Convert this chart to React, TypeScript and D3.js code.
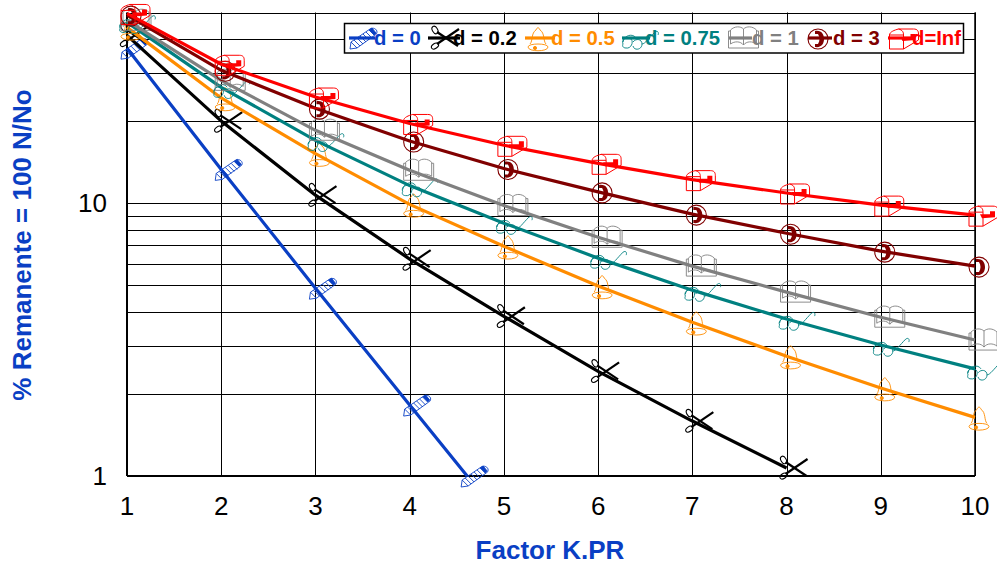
import React, { useEffect, useRef } from 'react'
import * as d3 from 'd3'

// values
const factor = [1, 2, 3, 4, 5, 6, 7, 8, 9, 10]
const d0x = [1, 2, 3, 4, 4.61]
const d0 = [37, 13.3, 4.88, 1.82, 1]
const d02x = [1, 2, 3, 4, 5, 6, 7, 8]
const d02 = [41.2, 20, 10.7, 6.24, 3.85, 2.42, 1.59, 1.07]
const d05 = [44.1, 24.3, 15.2, 9.9, 6.95, 4.97, 3.66, 2.75, 2.1, 1.64]
const d075 = [46, 26.6, 17, 11.6, 8.45, 6.29, 4.8, 3.76, 3.02, 2.47]
const d1 = [46.8, 28.2, 18.5, 13.2, 9.8, 7.5, 5.88, 4.72, 3.82, 3.15]
const d3v = [48.9, 30.7, 22.3, 16.9, 13.4, 11, 9.12, 7.76, 6.67, 5.88]
const dInf = [49.6, 32.3, 24.5, 19.6, 16.3, 14, 12.2, 10.9, 9.84, 9.04]

const yGrid = [1, 2, 3, 4, 5, 6, 7, 8, 9, 10, 20, 30, 40, 50]
const yLabels = [1, 10]
const seriesNames = ['d = 0', 'd = 0.2', 'd = 0.5', 'd = 0.75', 'd = 1', 'd = 3', 'd=Inf']

const BLUE = '#0a3fc4'
const colors = [BLUE, '#000000', '#ff8c00', '#008080', '#808080', '#800000', '#ff0000']
const markerIds = ['pencil', 'scissors', 'bell', 'glasses', 'book', 'phone', 'mailbox']

// legend layout: where the sample line starts/ends and where the text starts
const legendLine = [[349, 375], [428, 460], [525, 555], [622, 650], [729, 752], [808, 832], [888, 915]]
const legendText = [374, 453, 551, 645, 752, 833, 912]

const FONT = '"Liberation Sans", Arial, sans-serif'

// wingdings style marker glyphs, origin sits on the data point
function Markers() {
  return (
    <defs>
      <g id="pencil" fill="none" strokeWidth={0.9}>
        <path d="M-6 11 L-5 4 L14 -9 C17 -11 21 -9 21 -6 C21 -5 20 -3 19 -3 L1 10 Z" />
        <path d="M-5 4 L1 10 M-2 2 L4 8 M1 0 L7 6 M4 -2 L10 4 M7 -4 L13 2 M10 -6 L16 0" />
        <path d="M13 -8 L18 -3 L20 -5 L16 -10 Z" fill="currentColor" />
      </g>
      <g id="scissors" fill="none">
        <path d="M-1 6 L21 -9" strokeWidth={2.2} />
        <path d="M-1 -6 L20 8" strokeWidth={2.2} />
        <ellipse cx="-3" cy="8" rx="4" ry="2.4" strokeWidth={1.1} transform="rotate(-35 -3 8)" />
        <ellipse cx="-3" cy="-8" rx="2.6" ry="4" strokeWidth={1.1} transform="rotate(-30 -3 -8)" />
      </g>
      <g id="bell" fill="none" strokeWidth={0.9}>
        <path d="M-4 6 C-1 3 -3 -5 2 -8 C3 -11 5 -11 6 -8 C11 -5 9 3 12 6" />
        <path d="M-6 9 C-6 14 14 14 14 9 C14 5 -6 5 -6 9 Z" />
        <circle cx="1" cy="10" r="1.6" fill="currentColor" />
      </g>
      <g id="glasses" fill="none" strokeWidth={0.9}>
        <path d="M-7 6 C-9 1 -3 -2 1 1 C4 4 1 11 -4 10 C-7 10 -8 8 -7 6" />
        <path d="M3 4 C6 0 12 1 12 6 C12 12 4 13 3 8" />
        <path d="M-7 4 C-6 -3 3 -5 6 0" />
        <path d="M12 6 C15 6 19 0 25 -6 C28 -8 29 -5 28 -3" />
      </g>
      <g id="book" fill="none" strokeWidth={0.9}>
        <path d="M-4 -8 C0 -12 6 -12 9 -9 C12 -12 18 -12 22 -8 V6 C18 3 12 3 9 7 C6 3 0 3 -4 6 Z" />
        <path d="M9 -9 V7" />
        <path d="M-4 -7 H-6 V10 H24 V-7 H22" />
      </g>
      <g id="phone" fill="none">
        <circle cx="4" cy="1" r="10" strokeWidth={1.1} />
        <path d="M1 -7 C8 -8 10 -3 10 1 C10 5 8 10 1 9 L1 6 L4 6 C6 3 6 -1 4 -4 L1 -4 Z" fill="currentColor" stroke="none" />
      </g>
      <g id="mailbox" fill="none" strokeWidth={1}>
        <path d="M-6 -3 H8 V11 H-6 Z" />
        <path d="M-6 -3 C-6 -6 -1 -8 3 -9 L18 -9 C22 -9 23 -7 23 -4 V2 L8 11" />
        <path d="M3 -9 C7 -8 8 -6 8 -3" />
        <path d="M5 -1 L15 -1 L15 -4 L20 -4 L20 2 L7 3 Z" fill="currentColor" stroke="none" />
      </g>
    </defs>
  )
}

export default function App() {
  const ref = useRef<SVGSVGElement>(null)

  useEffect(() => {
    const svg = d3.select(ref.current)
    svg.select('.chart').remove()
    const chart = svg.append('g').attr('class', 'chart')

    const x = d3.scaleLinear().domain([1, 10]).range([127, 975])
    const y = d3.scaleLog().domain([1, 50]).range([476, 12.5])

    // gridlines
    chart.selectAll('.gy').data(yGrid).enter().append('line')
      .attr('x1', x(1)).attr('x2', x(10))
      .attr('y1', d => Math.round(y(d)) + 0.5).attr('y2', d => Math.round(y(d)) + 0.5)
      .attr('stroke', '#000').attr('stroke-width', 1)
    chart.selectAll('.gx').data(factor).enter().append('line')
      .attr('x1', d => Math.round(x(d)) + 0.5).attr('x2', d => Math.round(x(d)) + 0.5)
      .attr('y1', y(50)).attr('y2', y(1))
      .attr('stroke', '#000').attr('stroke-width', 1)

    // frame on left, right, bottom
    chart.append('line').attr('x1', x(1)).attr('x2', x(1)).attr('y1', y(50)).attr('y2', y(1)).attr('stroke', '#000').attr('stroke-width', 2)
    chart.append('line').attr('x1', x(10)).attr('x2', x(10)).attr('y1', y(50)).attr('y2', y(1)).attr('stroke', '#000').attr('stroke-width', 1.5)
    chart.append('line').attr('x1', x(1)).attr('x2', x(10)).attr('y1', y(1)).attr('y2', y(1)).attr('stroke', '#000').attr('stroke-width', 2)

    // tick labels
    chart.selectAll('.xl').data(factor).enter().append('text')
      .attr('x', d => x(d)).attr('y', 515)
      .attr('text-anchor', 'middle').attr('font-family', FONT).attr('font-size', 26)
      .text(d => d)
    chart.selectAll('.yl').data(yLabels).enter().append('text')
      .attr('x', 107).attr('y', d => y(d) + 9)
      .attr('text-anchor', 'end').attr('font-family', FONT).attr('font-size', 26)
      .text(d => d)

    // axis titles
    chart.append('text')
      .attr('x', 550).attr('y', 559).attr('text-anchor', 'middle')
      .attr('font-family', FONT).attr('font-size', 26).attr('font-weight', 'bold').attr('fill', BLUE)
      .text('Factor K.PR')
    chart.append('text')
      .attr('transform', 'translate(31,245) rotate(-90)').attr('text-anchor', 'middle')
      .attr('font-family', FONT).attr('font-size', 26).attr('font-weight', 'bold').attr('fill', BLUE)
      .text('% Remanente = 100 N/No')

    // series
    const line = d3.line<[number, number]>().x(d => x(d[0])).y(d => y(d[1]))
    const allSeries: [number, number][][] = [
      d0.map((v, i) => [d0x[i], v]),
      d02.map((v, i) => [d02x[i], v]),
      d05.map((v, i) => [factor[i], v]),
      d075.map((v, i) => [factor[i], v]),
      d1.map((v, i) => [factor[i], v]),
      d3v.map((v, i) => [factor[i], v]),
      dInf.map((v, i) => [factor[i], v]),
    ]
    allSeries.forEach((points, i) => {
      const g = chart.append('g').attr('color', colors[i]).attr('stroke', colors[i])
      g.append('path').attr('d', line(points)).attr('fill', 'none').attr('stroke-width', 3.2)
      g.selectAll('use').data(points).enter().append('use')
        .attr('href', '#' + markerIds[i])
        .attr('x', d => x(d[0])).attr('y', d => y(d[1]))
    })

    // legend
    const legend = chart.append('g')
    legend.append('rect').attr('x', 344.5).attr('y', 23.5).attr('width', 619).attr('height', 29.5)
      .attr('fill', '#fff').attr('stroke', '#000').attr('stroke-width', 1.5)
    seriesNames.forEach((name, i) => {
      const g = legend.append('g').attr('color', colors[i]).attr('stroke', colors[i])
      const [a, b] = legendLine[i]
      g.append('line').attr('x1', a).attr('x2', b).attr('y1', 38).attr('y2', 38).attr('stroke-width', 3.2)
      g.append('use').attr('href', '#' + markerIds[i]).attr('x', (a + b) / 2 - 6).attr('y', 38)
      legend.append('text').attr('x', legendText[i]).attr('y', 45)
        .attr('font-family', FONT).attr('font-size', 20.3).attr('font-weight', 'bold')
        .attr('fill', colors[i]).text(name)
    })
  }, [])

  return (
    <svg ref={ref} width={997} height={565} style={{ position: 'absolute', left: 0, top: 0, background: '#fff' }}>
      <Markers />
    </svg>
  )
}
